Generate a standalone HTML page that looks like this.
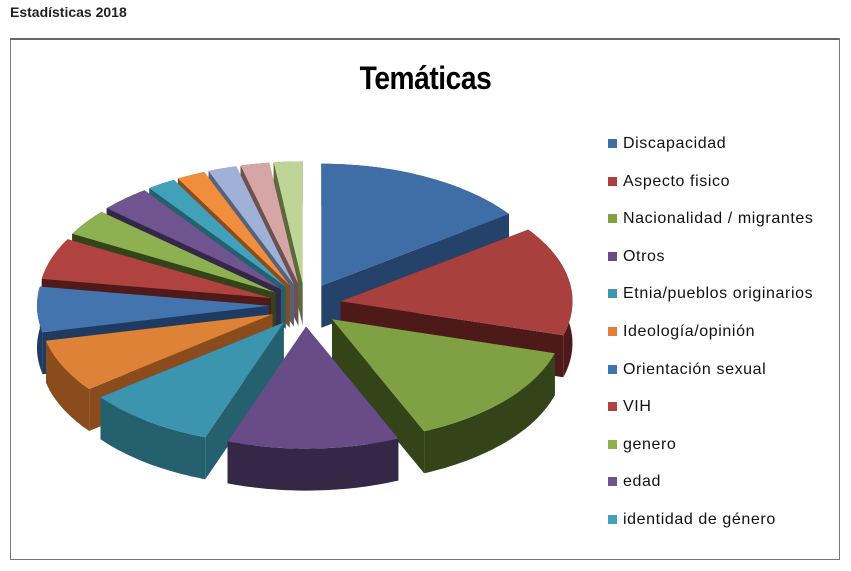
<!DOCTYPE html>
<html><head><meta charset="utf-8"><style>
body{margin:0;background:#fff;width:851px;height:571px;overflow:hidden;font-family:"Liberation Sans",sans-serif}
.h{position:absolute;left:10px;top:4px;font-weight:bold;font-size:14px;color:#222}
.box{position:absolute;left:10px;top:38px;width:830px;height:522px;border:1px solid #777;border-top:2px solid #666;box-sizing:border-box}
.t{position:absolute;left:0;width:851px;top:60px;text-align:center;font-weight:bold;font-size:32px;letter-spacing:-0.5px;color:#000;transform:scaleX(0.88)}
.lg{position:absolute;left:608px;font-size:16px;letter-spacing:0.6px;color:#111}
.lg i{display:inline-block;width:9px;height:9px;margin-right:6px;vertical-align:0px}
</style></head><body>
<div class="h">Estadísticas 2018</div>
<div class="box"></div>
<div class="t">Temáticas</div>
<svg id="s" width="851" height="571" style="position:absolute;left:0;top:0"></svg>
<div id="L"></div>
<script>
var d=[[15,'#3F6DA6','#24426A','Discapacidad'],[14.5,'#A8403D','#4E1A19','Aspecto fisico'],[14,'#7FA043','#334418','Nacionalidad / migrantes'],[12,'#674C87','#352847','Otros'],[9,'#3C95AE','#25606F','Etnia/pueblos originarios'],[7,'#DD8236','#8A4C1C','Ideología/opinión'],[6,'#4474AE','#203B62','Orientación sexual'],[5.5,'#B0433F','#501A19','VIH'],[3.5,'#8DB050','#334418','genero'],[3.5,'#6F5490','#352847','edad'],[2,'#41A0BA','#25606F','identidad de género'],[2,'#F08E3E','#8A4C1C'],[2,'#9FB1D6','#56627A'],[2,'#D6A6A6','#6E5050'],[2,'#BFD598','#5A6A3A']];
var cx=305,cy=305,rx=232,ry=122,D=42,E=36,tot=0;d.forEach(function(a){tot+=a[0]});
var sl=[],a0=0;
d.forEach(function(a){var a1=a0+a[0]/tot*2*Math.PI,m=(a0+a1)/2;sl.push({a0:a0,a1:a1,m:m,c:a[1],s:a[2]});a0=a1;});
function P(o,t,dz){return[o.x+rx*Math.sin(t),o.y-ry*Math.cos(t)+dz];}
function arc(o,t0,t1,dz){var r=[],n=40;for(var i=0;i<=n;i++)r.push(P(o,t0+(t1-t0)*i/n,dz));return r;}
function poly(p,f){return '<polygon points="'+p.map(function(q){return q[0].toFixed(1)+','+q[1].toFixed(1)}).join(' ')+'" fill="'+f+'"/>';}
sl.sort(function(a,b){return -Math.cos(a.m)+Math.cos(b.m)});
var h='';
sl.forEach(function(s){var o={x:cx+E*Math.sin(s.m),y:cy-E*0.6*Math.cos(s.m)};
 var c=[o.x,o.y],cd=[o.x,o.y+D];
 [s.a0,s.a1].forEach(function(t){var p=P(o,t,0),q=P(o,t,D);h+=poly([c,p,q,cd],s.s);});
 var top=arc(o,s.a0,s.a1,0),bot=arc(o,s.a0,s.a1,D).reverse();
 h+=poly(top.concat(bot),s.s);
 h+=poly([c].concat(top),s.c);});
document.getElementById('s').innerHTML=h;
var L='';d.forEach(function(a,i){if(a[3])L+='<div class="lg" style="top:'+(135+i*37.6)+'px"><i style="background:'+a[1]+'"></i>'+a[3]+'</div>';});
document.getElementById('L').innerHTML=L;
</script>
</body></html>
